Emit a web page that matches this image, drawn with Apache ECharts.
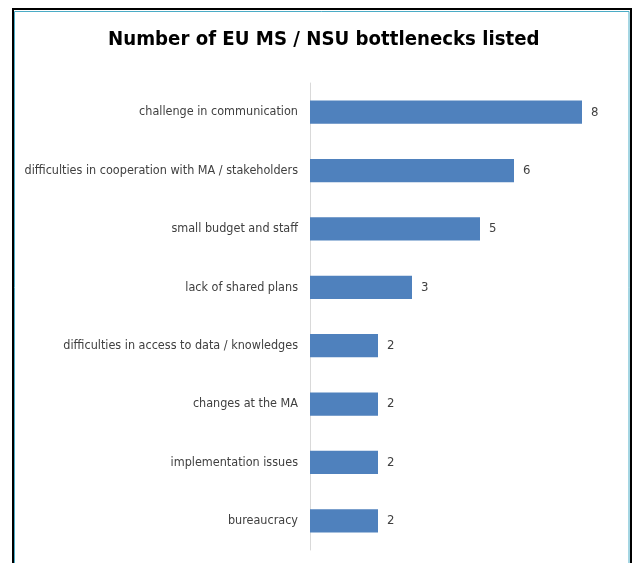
<!DOCTYPE html>
<html>
<head>
<meta charset="utf-8">
<script src="https://cdn.jsdelivr.net/npm/echarts@6/dist/echarts.min.js"></script>
<style>
html,body{margin:0;padding:0;background:#fff;}
#chart{width:633px;height:563px;}
</style>
</head>
<body>
<div id="chart"></div>
<script>
const categories = [
  "challenge in communication",
  "difficulties in cooperation with MA / stakeholders",
  "small budget and staff",
  "lack of shared plans",
  "difficulties in access to data / knowledges",
  "changes at the MA",
  "implementation issues",
  "bureaucracy"
];
const values = [8, 6, 5, 3, 2, 2, 2, 2];
const titleText = "Number of EU MS / NSU bottlenecks listed";

const FONT = "'Liberation Sans Narrow', 'DejaVu Sans Condensed', 'Roboto', sans-serif";
const chart = echarts.init(document.getElementById('chart'), null, {renderer: 'canvas'});
chart.setOption({
  animation: false,
  backgroundColor: '#fff',
  title: {
    text: titleText,
    left: 103,
    top: 25,
    textStyle: {fontFamily: FONT, fontSize: 20.2, fontWeight: 'bold', color: '#000'}
  },
  graphic: [
    {type: 'rect', shape: {x: 13, y: 9, width: 618, height: 600}, style: {fill: 'none', stroke: '#000', lineWidth: 2}, silent: true},
    {type: 'rect', shape: {x: 14.5, y: 11.5, width: 614.5, height: 600}, style: {fill: 'none', stroke: '#4BACC6', lineWidth: 1}, silent: true}
  ],
  grid: {left: 310, right: 51, top: 83, bottom: 13, containLabel: false},
  xAxis: {
    type: 'value', min: 0, max: 8, show: false, splitLine: {show: false}
  },
  yAxis: {
    type: 'category', data: categories, inverse: true,
    axisLine: {show: true, lineStyle: {color: '#D9D9D9', width: 1}},
    axisTick: {show: false},
    axisLabel: {margin: 12, fontFamily: FONT, fontSize: 12.5, color: '#404040'}
  },
  series: [{
    type: 'bar', data: values, barCategoryGap: '60%',
    itemStyle: {color: '#4F81BD'},
    label: {show: true, position: 'right', distance: 9, fontFamily: FONT, fontSize: 13, color: '#404040'}
  }]
});
</script>
</body>
</html>
